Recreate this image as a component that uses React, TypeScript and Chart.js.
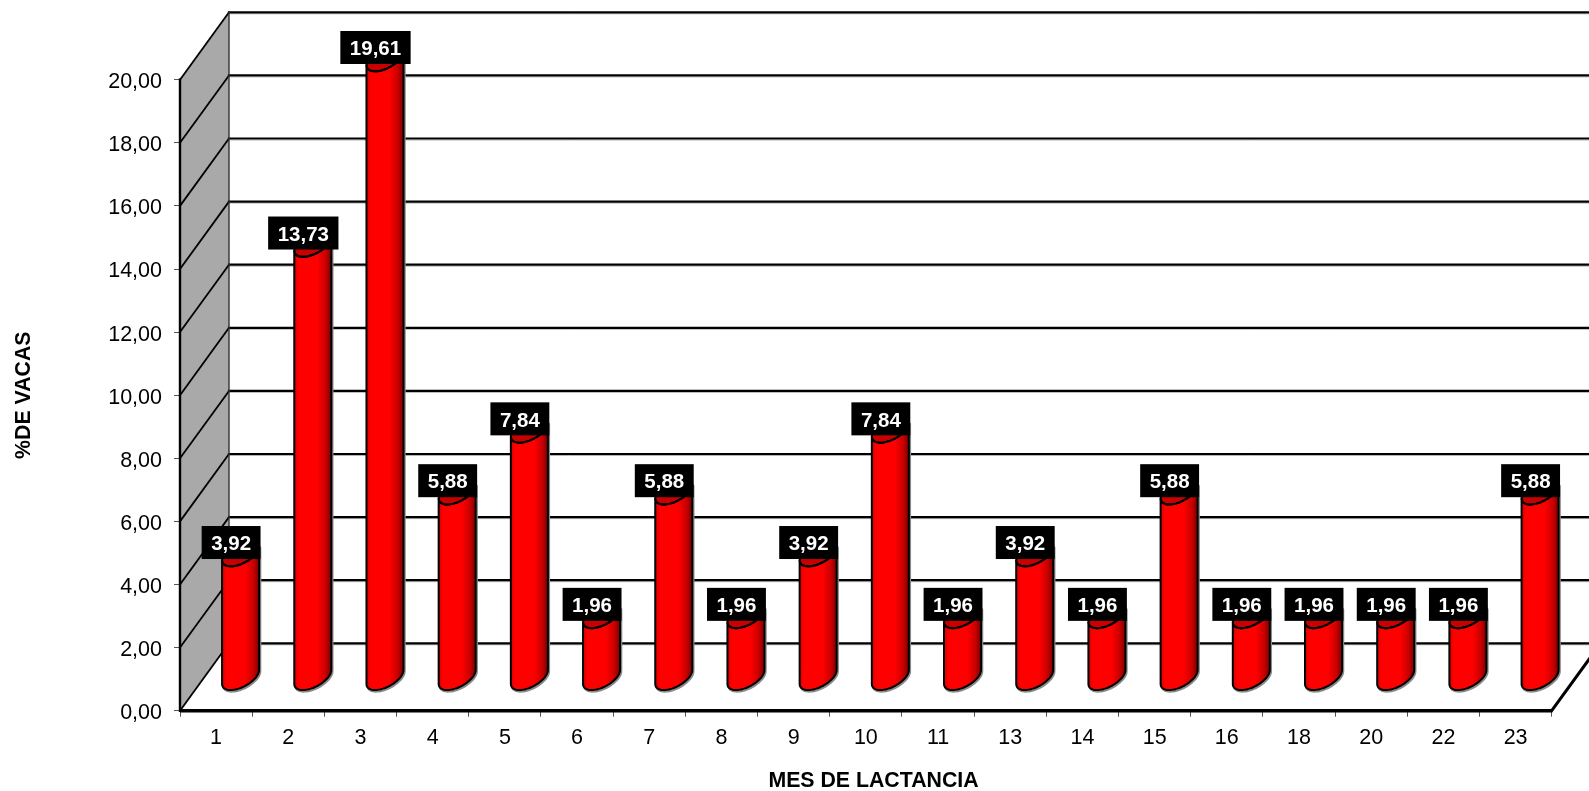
import React, { useEffect, useRef } from "react";
import { Chart, registerables } from "chart.js";

Chart.register(...registerables);

const months = ["1", "2", "3", "4", "5", "6", "7", "8", "9", "10", "11", "13", "14", "15", "16", "18", "20", "22", "23"];
const cowShare = [3.92, 13.73, 19.61, 5.88, 7.84, 1.96, 5.88, 1.96, 3.92, 7.84, 1.96, 3.92, 1.96, 5.88, 1.96, 1.96, 1.96, 1.96, 5.88];
const gridValues = [0, 2, 4, 6, 8, 10, 12, 14, 16, 18, 20];

const FONT = '"Liberation Sans", Arial, sans-serif';
const WIDTH = 1589;
const HEIGHT = 791;
const DEPTH_X = 49;
const DEPTH_Y = 67.4;

const comma = (v: number) => v.toFixed(2).replace(".", ",");

function line(ctx: CanvasRenderingContext2D, x1: number, y1: number, x2: number, y2: number, w: number, color: string) {
  ctx.strokeStyle = color;
  ctx.lineWidth = w;
  ctx.beginPath();
  ctx.moveTo(x1, y1);
  ctx.lineTo(x2, y2);
  ctx.stroke();
}

// Back wall, side wall and floor of the 3D box, hung on the value scale.
const boxPlugin = {
  id: "box",
  beforeDatasetsDraw(chart: any) {
    const { ctx, chartArea: a, scales } = chart;
    const y = scales.y;
    const top = y.getPixelForValue(20);
    const base = y.getPixelForValue(0);
    ctx.save();
    ctx.lineCap = "square";

    ctx.fillStyle = "#a9a9a9";
    ctx.beginPath();
    ctx.moveTo(a.left, base);
    ctx.lineTo(a.left, top);
    ctx.lineTo(a.left + DEPTH_X, top - DEPTH_Y);
    ctx.lineTo(a.left + DEPTH_X, base - DEPTH_Y);
    ctx.closePath();
    ctx.fill();

    for (const v of gridValues) {
      const py = y.getPixelForValue(v);
      line(ctx, a.left + DEPTH_X, py - DEPTH_Y + 1.5, WIDTH, py - DEPTH_Y + 1.5, 1, "#b5b5b5");
      line(ctx, a.left + DEPTH_X, py - DEPTH_Y, WIDTH, py - DEPTH_Y, 2.2, "#000");
      line(ctx, a.left, py, a.left + DEPTH_X, py - DEPTH_Y, 1.8, "#000");
    }
    line(ctx, a.left + DEPTH_X, top - DEPTH_Y, a.left + DEPTH_X, base - DEPTH_Y, 1.4, "#333");
    line(ctx, a.left, top, a.left, base, 2.4, "#000");
    line(ctx, a.right, base, a.right + DEPTH_X, base - DEPTH_Y, 3, "#000");
    ctx.restore();
  },
  afterDatasetsDraw(chart: any) {
    const { ctx, chartArea: a, scales } = chart;
    const base = scales.y.getPixelForValue(0);
    ctx.save();
    line(ctx, a.left, base, a.right, base, 3.5, "#000");
    ctx.textAlign = "center";
    ctx.textBaseline = "alphabetic";
    ctx.fillStyle = "#000";
    ctx.font = `bold 21.3px ${FONT}`;
    ctx.fillText("MES DE LACTANCIA", 873.5, 787);
    ctx.restore();
  },
};

// Cylinders stand halfway into the box; each one takes its place from the bar element.
const cylinderPlugin = {
  id: "cylinders",
  afterDatasetsDraw(chart: any) {
    const { ctx, scales } = chart;
    const meta = chart.getDatasetMeta(0);
    const baseY = scales.y.getPixelForValue(0) - DEPTH_Y / 2;
    const tilt = 7;
    const bulge = 11;

    meta.data.forEach((el: any) => {
      const cx = el.x + DEPTH_X / 2;
      const r = el.width / 2;
      const topY = el.y - DEPTH_Y / 2;
      const L = cx - r;
      const R = cx + r;
      const arc = (cy: number, from: number, to: number) => {
        const steps = 32;
        for (let i = 0; i <= steps; i++) {
          const t = from + ((to - from) * i) / steps;
          ctx.lineTo(cx + r * Math.cos(t), cy - tilt * Math.cos(t) + bulge * Math.sin(t));
        }
      };
      const body = () => {
        ctx.beginPath();
        arc(baseY, 0, Math.PI);
        arc(topY, Math.PI, 0);
        ctx.closePath();
      };

      ctx.save();
      ctx.lineJoin = "round";
      ctx.translate(1, 1.4);
      body();
      ctx.strokeStyle = "#8a8a8a";
      ctx.lineWidth = 2.4;
      ctx.stroke();
      ctx.restore();

      ctx.save();
      ctx.lineJoin = "round";
      const g = ctx.createLinearGradient(L, 0, R, 0);
      g.addColorStop(0, "#d80000");
      g.addColorStop(0.12, "#ff0000");
      g.addColorStop(0.62, "#ff0000");
      g.addColorStop(0.85, "#c80000");
      g.addColorStop(1, "#780000");
      body();
      ctx.fillStyle = g;
      ctx.fill();

      ctx.beginPath();
      arc(topY, 0, Math.PI * 2);
      ctx.closePath();
      ctx.fillStyle = "#c80000";
      ctx.fill();
      ctx.strokeStyle = "#000";
      ctx.lineWidth = 2;
      ctx.stroke();

      body();
      ctx.stroke();
      ctx.restore();
    });
  },
};

// Black value tags above the cylinders.
const tagPlugin = {
  id: "tags",
  afterDraw(chart: any) {
    const { ctx } = chart;
    const meta = chart.getDatasetMeta(0);
    ctx.save();
    ctx.font = `bold 20.5px ${FONT}`;
    ctx.textAlign = "center";
    ctx.textBaseline = "middle";
    meta.data.forEach((el: any, i: number) => {
      const text = comma(cowShare[i]);
      const w = ctx.measureText(text).width + 19;
      const h = 33;
      const cx = el.x + 15;
      const bottom = el.y - 28;
      ctx.fillStyle = "#000";
      ctx.fillRect(cx - w / 2, bottom - h, w, h);
      ctx.fillStyle = "#fff";
      ctx.fillText(text, cx, bottom - h / 2 + 2);
    });
    ctx.restore();
  },
};

export default function App() {
  const ref = useRef<HTMLCanvasElement>(null);

  useEffect(() => {
    const chart = new Chart(ref.current!, {
      type: "bar",
      data: {
        labels: months,
        datasets: [
          {
            data: cowShare,
            backgroundColor: "rgba(0,0,0,0)",
            borderWidth: 0,
            categoryPercentage: 1,
            barPercentage: 0.513,
          },
        ],
      },
      options: {
        responsive: false,
        animation: false,
        devicePixelRatio: 1,
        layout: { padding: { top: 79.7, right: 37.3, left: 0, bottom: 0 } },
        plugins: { legend: { display: false }, tooltip: { enabled: false } },
        scales: {
          x: {
            afterFit(scale: any) {
              scale.height = 80.3;
            },
            border: { display: false },
            grid: { offset: true, drawOnChartArea: false, color: "#555", tickLength: 6, lineWidth: 1 },
            ticks: { color: "#000", font: { family: FONT, size: 21.5 }, padding: 8, maxRotation: 0, autoSkip: false },
          },
          y: {
            min: 0,
            max: 20,
            afterFit(scale: any) {
              scale.width = 180;
            },
            border: { display: false },
            grid: { drawOnChartArea: false, color: "#555", tickLength: 6, lineWidth: 1 },
            ticks: {
              stepSize: 2,
              color: "#000",
              font: { family: FONT, size: 21.5 },
              padding: 12,
              labelOffset: 2.5,
              callback: (v: any) => comma(Number(v)),
            },
            title: {
              display: true,
              text: "%DE VACAS",
              color: "#000",
              font: { family: FONT, size: 21.3, weight: "bold" },
              padding: { top: 11, bottom: 0 },
            },
          },
        },
      },
      plugins: [boxPlugin, cylinderPlugin, tagPlugin],
    });
    return () => chart.destroy();
  }, []);

  return (
    <div style={{ position: "fixed", left: 0, top: 0, width: WIDTH, height: HEIGHT, overflow: "hidden", background: "#fff" }}>
      <canvas ref={ref} width={WIDTH} height={HEIGHT} style={{ display: "block" }} />
    </div>
  );
}
